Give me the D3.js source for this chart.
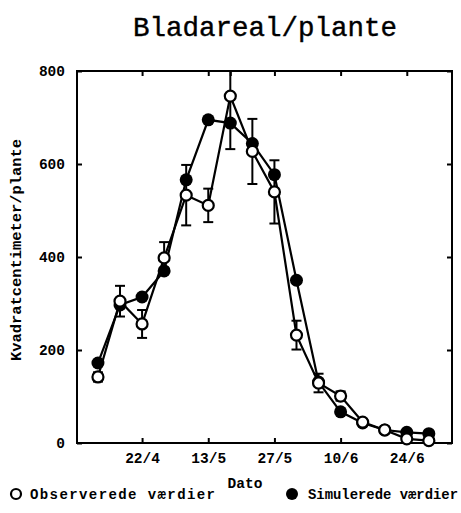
<!DOCTYPE html>
<html><head><meta charset="utf-8">
<script src="https://cdn.jsdelivr.net/npm/d3@7/dist/d3.min.js"></script>
<style>
body{margin:0;background:#fff;}
svg{display:block;}
</style></head>
<body>
<svg id="c" width="461" height="513"></svg>
<script>
// sampling index (0..15), roughly weekly harvests
const sampleIndex = d3.range(16);
const observed  = [142, 305, 256, 398, 533, 511, 746, 627, 540, 232, 129, 101, 45, 28, 9, 5];
const observedErr = [10, 33, 30, 34, 65, 36, 114, 70, 68, 31, 20, 10, 6, 5, 4, 4];
const simulated = [172, 297, 314, 370, 566, 695, 688, 644, 577, 350, 131, 67, 43, 28, 23, 20];
const xTickIndex = [2, 5, 8, 11, 14];
const xTickLabels = ["22/4", "13/5", "27/5", "10/6", "24/6"];
const xTopTicks = [2, 5, 6, 8, 11, 14];
const yTicks = [0, 200, 400, 600, 800];
const legendLabels = ["Observerede værdier", "Simulerede værdier"];

const svg = d3.select("#c");
const L = 77, R = 452, T = 71, B = 443;
const x = d3.scaleLinear().domain([-0.95, 16.05]).range([L, R]);
const y = d3.scaleLinear().domain([0, 800]).range([B, T]);

const mono = "'Liberation Mono','Courier New',monospace";

// title
svg.append("text").attr("x", 265).attr("y", 36).attr("text-anchor", "middle")
  .attr("font-family", mono).attr("font-size", 27.5).attr("fill", "#000")
  .attr("stroke", "#000").attr("stroke-width", 0.4)
  .text("Bladareal/plante");

svg.append("clipPath").attr("id", "pc").append("rect")
  .attr("x", L).attr("y", T).attr("width", R - L).attr("height", B - T);

// axes
const axB = d3.axisBottom(x).tickValues(xTickIndex).tickFormat((d, i) => xTickLabels[i]).tickSizeInner(-5).tickSizeOuter(0).tickPadding(10);
const axT = d3.axisTop(x).tickValues(xTopTicks).tickFormat("").tickSizeInner(-5).tickSizeOuter(0);
const axL = d3.axisLeft(y).tickValues(yTicks).tickSizeInner(-5).tickSizeOuter(0).tickPadding(12);
const axR = d3.axisRight(y).tickValues(yTicks).tickFormat("").tickSizeInner(-5).tickSizeOuter(0);

function style(g) {
  g.select(".domain").remove();
  g.selectAll(".tick line").attr("stroke", "#000").attr("stroke-width", 2);
  g.selectAll("text").attr("font-family", mono).attr("font-weight", "bold")
    .attr("font-size", 14.5).attr("fill", "#000");
}
svg.append("g").attr("transform", `translate(0,${B})`).call(axB).call(style);
svg.append("g").attr("transform", `translate(0,${T})`).call(axT).call(style);
svg.append("g").attr("transform", `translate(${L},0)`).call(axL).call(style);
svg.append("g").attr("transform", `translate(${R},0)`).call(axR).call(style);

svg.append("rect").attr("x", L).attr("y", T).attr("width", R - L).attr("height", B - T)
  .attr("fill", "none").attr("stroke", "#000").attr("stroke-width", 2);

// axis titles
svg.append("text").attr("x", 245).attr("y", 488).attr("text-anchor", "middle")
  .attr("font-family", mono).attr("font-weight", "bold").attr("font-size", 14.5)
  .text("Dato");
svg.append("text").attr("transform", "translate(21,250) rotate(-90)").attr("text-anchor", "middle")
  .attr("font-family", mono).attr("font-weight", "bold").attr("font-size", 15)
  .attr("textLength", 222).attr("lengthAdjust", "spacingAndGlyphs")
  .text("Kvadratcentimeter/plante");

const plot = svg.append("g").attr("clip-path", "url(#pc)");
const line = d3.line().x((d, i) => x(sampleIndex[i])).y(d => y(d));

plot.append("path").datum(simulated).attr("d", line).attr("fill", "none")
  .attr("stroke", "#000").attr("stroke-width", 2.2);
plot.append("path").datum(observed).attr("d", line).attr("fill", "none")
  .attr("stroke", "#000").attr("stroke-width", 2.2);

// error bars
const eb = plot.selectAll("g.eb").data(observed).enter().append("g");
eb.append("line").attr("x1", (d, i) => x(sampleIndex[i])).attr("x2", (d, i) => x(sampleIndex[i]))
  .attr("y1", (d, i) => y(d - observedErr[i])).attr("y2", (d, i) => y(d + observedErr[i]))
  .attr("stroke", "#000").attr("stroke-width", 2);
[-1, 1].forEach(s => {
  eb.append("line").attr("x1", (d, i) => x(sampleIndex[i]) - 5).attr("x2", (d, i) => x(sampleIndex[i]) + 5)
    .attr("y1", (d, i) => y(d + s * observedErr[i])).attr("y2", (d, i) => y(d + s * observedErr[i]))
    .attr("stroke", "#000").attr("stroke-width", 2);
});

plot.selectAll("circle.sim").data(simulated).enter().append("circle")
  .attr("cx", (d, i) => x(sampleIndex[i])).attr("cy", d => y(d)).attr("r", 6.5)
  .attr("fill", "#000");
svg.selectAll("circle.obs").data(observed).enter().append("circle")
  .attr("cx", (d, i) => x(sampleIndex[i])).attr("cy", d => y(d)).attr("r", 5.5)
  .attr("fill", "#fff").attr("stroke", "#000").attr("stroke-width", 2.2);

// legend
const lg = svg.append("g");
lg.append("circle").attr("cx", 16).attr("cy", 494).attr("r", 5).attr("fill", "#fff")
  .attr("stroke", "#000").attr("stroke-width", 2.2);
lg.append("text").attr("x", 30).attr("y", 499).attr("font-family", mono).attr("font-weight", "bold")
  .attr("font-size", 14).attr("textLength", 185).attr("lengthAdjust", "spacing")
  .text(legendLabels[0]);
lg.append("circle").attr("cx", 292).attr("cy", 494).attr("r", 6).attr("fill", "#000");
lg.append("text").attr("x", 308).attr("y", 499).attr("font-family", mono).attr("font-weight", "bold")
  .attr("font-size", 14).attr("textLength", 150).attr("lengthAdjust", "spacingAndGlyphs")
  .text(legendLabels[1]);
</script>
</body></html>
